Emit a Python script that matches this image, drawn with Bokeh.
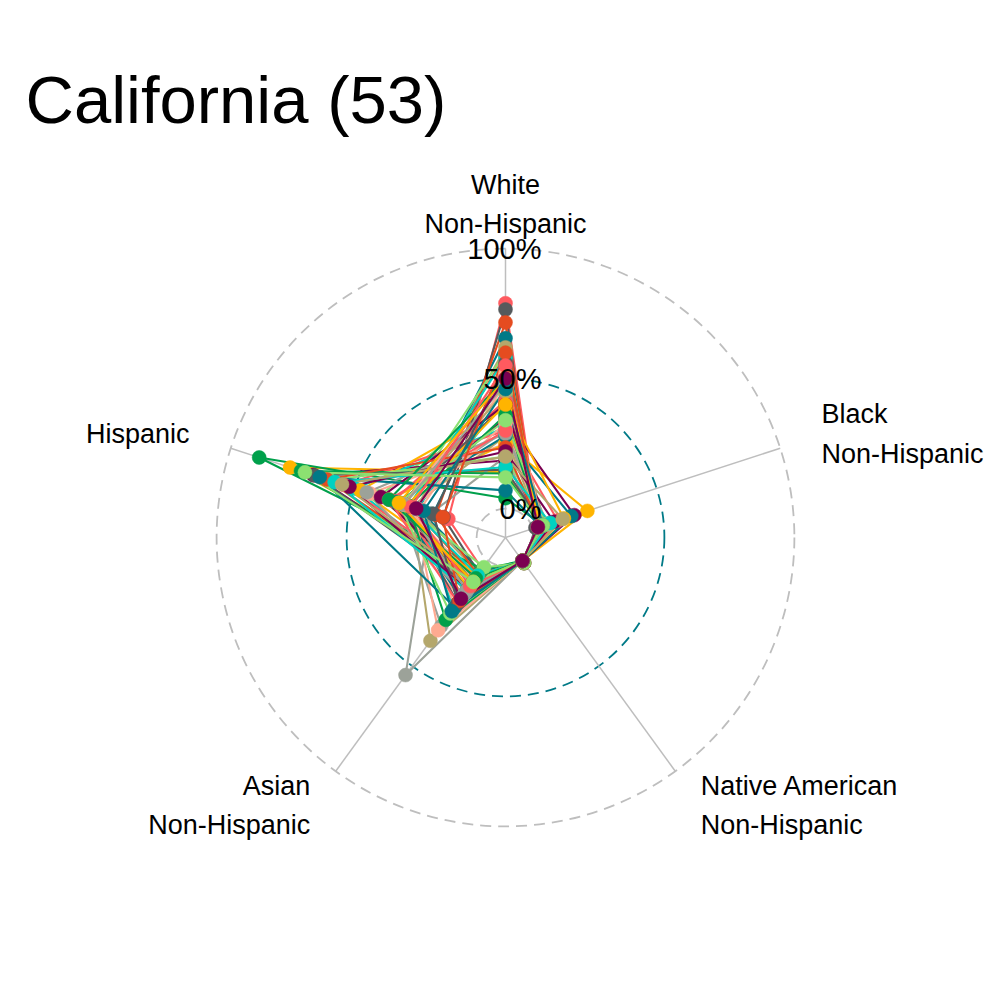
import numpy as np
from bokeh.plotting import figure
from bokeh.models import Range1d
from bokeh.embed import file_html
from bokeh.resources import INLINE
from bokeh.core.properties import value

title_text = "California (53)"
axis_names = ["White\nNon-Hispanic", "Black\nNon-Hispanic",
              "Native American\nNon-Hispanic", "Asian\nNon-Hispanic", "Hispanic"]
palette = ["#FF5A5F", "#FFB400", "#007A87", "#8CE071", "#7B0051", "#00D1C1",
           "#FFAA91", "#B4A76C", "#9CA299", "#565A5C", "#00A04B", "#E54C20"]

white = [0.79, 0.14, 0.655, 0.443, 0.185, 0.312, 0.25, 0.62, 0.20, 0.766,
         0.04, 0.716, 0.30, 0.25, 0.55, 0.60, 0.346, 0.42, 0.48, 0.28,
         0.30, 0.40, 0.135, 0.589, 0.416, 0.385, 0.28, 0.20, 0.40, 0.58,
         0.33, 0.45, 0.289, 0.15, 0.36, 0.235, 0.30, 0.40, 0.07, 0.34,
         0.22, 0.16, 0.52, 0.20, 0.48, 0.56, 0.50, 0.60, 0.55, 0.50,
         0.46, 0.12, 0.50]
black = [0.02, 0.04, 0.02, 0.03, 0.03, 0.04, 0.06, 0.02, 0.02, 0.01,
         0.04, 0.02, 0.04, 0.22, 0.02, 0.03, 0.167, 0.05, 0.02, 0.03,
         0.04, 0.05, 0.03, 0.03, 0.03, 0.03, 0.155, 0.05, 0.04, 0.02,
         0.03, 0.05, 0.06, 0.04, 0.03, 0.027, 0.10, 0.125, 0.03, 0.05,
         0.085, 0.07, 0.04, 0.12, 0.03, 0.02, 0.03, 0.027, 0.02, 0.03,
         0.04, 0.04, 0.02]
native = [0.01, 0.00, 0.01, 0.01, 0.00, 0.00, 0.00, 0.01, 0.00, 0.01,
          0.00, 0.01, 0.00, 0.00, 0.00, 0.01, 0.00, 0.00, 0.00, 0.00,
          0.00, 0.00, 0.00, 0.00, 0.00, 0.00, 0.00, 0.00, 0.00, 0.00,
          0.00, 0.00, 0.00, 0.00, 0.00, 0.00, 0.00, 0.00, 0.00, 0.00,
          0.00, 0.00, 0.00, 0.00, 0.00, 0.00, 0.00, 0.00, 0.00, 0.00,
          0.00, 0.00, 0.00]
asian = [0.04, 0.05, 0.05, 0.09, 0.10, 0.10, 0.18, 0.06, 0.543, 0.06,
         0.04, 0.07, 0.08, 0.14, 0.20, 0.03, 0.13, 0.227, 0.22, 0.38,
         0.309, 0.20, 0.08, 0.08, 0.15, 0.07, 0.18, 0.12, 0.10, 0.07,
         0.33, 0.15, 0.16, 0.12, 0.28, 0.09, 0.20, 0.13, 0.22, 0.25,
         0.138, 0.14, 0.09, 0.10, 0.14, 0.20, 0.083, 0.19, 0.12, 0.10,
         0.24, 0.10, 0.18]
hispanic = [0.12, 0.76, 0.24, 0.40, 0.667, 0.498, 0.436, 0.25, 0.19, 0.14,
            0.885, 0.17, 0.541, 0.36, 0.182, 0.30, 0.32, 0.25, 0.235, 0.27,
            0.32, 0.31, 0.716, 0.27, 0.344, 0.476, 0.33, 0.60, 0.392, 0.28,
            0.26, 0.30, 0.45, 0.66, 0.28, 0.611, 0.36, 0.288, 0.64, 0.32,
            0.52, 0.58, 0.30, 0.55, 0.30, 0.18, 0.36, 0.142, 0.27, 0.32,
            0.22, 0.70, 0.25]

grid_values = [0.0, 0.5, 1.0]
grid_labels = ["0%", "50%", "100%"]

# ---- geometry (ggradar-like) ----
centre_y = -1.0 / 9.0          # radial offset of the grid minimum
PX = 260.0                     # pixels per unit
CX, CY = 505.0, 537.0          # centre in canvas px
W_, H_ = 1000, 1000
RIGHT_CLIP = 17
BASE_FIX = 0.35                # em correction for svg alphabetic baseline

n_ax = len(axis_names)
angles = np.deg2rad(90.0 - 360.0 / n_ax * np.arange(n_ax))

def to_xy(vals):
    r = np.asarray(vals) - centre_y
    return r * np.cos(angles), r * np.sin(angles)

p = figure(width=W_, height=H_, output_backend="svg", toolbar_location=None,
           x_axis_location=None, y_axis_location=None,
           min_border_left=0, min_border_right=RIGHT_CLIP,
           min_border_top=0, min_border_bottom=0)
p.x_range = Range1d(-CX / PX, (W_ - RIGHT_CLIP - CX) / PX)
p.y_range = Range1d(-(H_ - CY) / PX, CY / PX)
p.grid.visible = False
p.outline_line_color = None
p.background_fill_color = "white"
p.border_fill_color = "white"

# grid circles
grid_cols = ["#BEBEBE", "#007A87", "#BEBEBE"]
for gv, gc in zip(grid_values, grid_cols):
    p.circle(x=[0], y=[0], radius=gv - centre_y, fill_color=None,
             line_color=gc, line_width=1.8, line_dash="11 7")

# axis lines
rmax = grid_values[-1] - centre_y
p.segment(x0=np.zeros(n_ax), y0=np.zeros(n_ax),
          x1=rmax * np.cos(angles), y1=rmax * np.sin(angles),
          line_color="#BEBEBE", line_width=1.5)

# group polygons
xs, ys, cols = [], [], []
px_, py_, pc_ = [], [], []
for i in range(len(white)):
    vals = [white[i], black[i], native[i], asian[i], hispanic[i]]
    x, y = to_xy(vals)
    col = palette[i % len(palette)]
    xs.append(list(x) + [x[0]])
    ys.append(list(y) + [y[0]])
    cols.append(col)
    px_.extend(x); py_.extend(y); pc_.extend([col] * n_ax)

p.multi_line(xs=xs, ys=ys, line_color=cols, line_width=2.1)
p.scatter(x=px_, y=py_, size=14, fill_color=pc_, line_color=pc_, line_width=0.5)

FONT = value("Liberation Sans")

# axis labels
lab_r = 1.15 * (grid_values[-1] - centre_y)
LINE_GAP = 39.4
LFS = 27
for k, name in enumerate(axis_names):
    lx = lab_r * np.cos(angles[k])
    ly = lab_r * np.sin(angles[k])
    if lx > 0.01:
        al = "left"
    elif lx < -0.01:
        al = "right"
    else:
        al = "center"
    lines = name.split("\n")
    nl = len(lines)
    for j, t in enumerate(lines):
        off = 8.8 + (j - (nl - 1) / 2.0) * LINE_GAP - BASE_FIX * LFS
        p.text(x=[lx], y=[ly - off / PX], text=[t], text_font=FONT,
               text_font_size=f"{LFS}px", text_align=al,
               text_baseline="alphabetic", text_color="black")

# grid labels
GFS = 29
for gv, gl in zip(grid_values, grid_labels):
    off = 10.4 - BASE_FIX * GFS
    p.text(x=[36.0 / PX], y=[gv - centre_y - off / PX], text=[gl],
           text_font=FONT, text_font_size=f"{GFS}px", text_align="right",
           text_baseline="alphabetic", text_color="black")

# title
TFS = 67
p.text(x=[(25 - CX) / PX], y=[(CY - 122 + BASE_FIX * TFS) / PX], text=[title_text],
       text_font=FONT, text_font_size=f"{TFS}px", text_align="left",
       text_baseline="alphabetic", text_color="black")

open("out.html", "w").write(file_html(p, INLINE))
